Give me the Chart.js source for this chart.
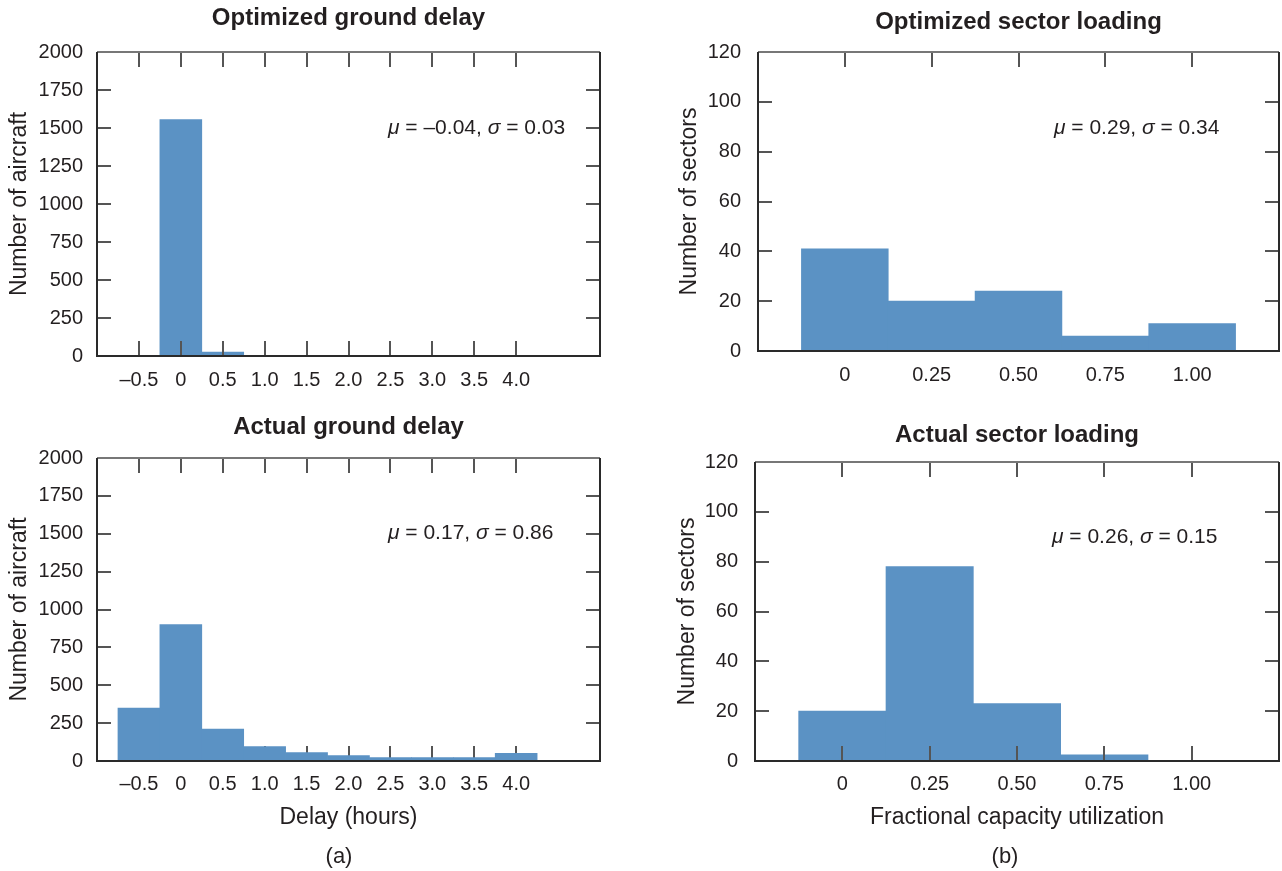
<!DOCTYPE html>
<html>
<head>
<meta charset="utf-8">
<script src="https://cdn.jsdelivr.net/npm/chart.js@4.4.1/dist/chart.umd.min.js"></script>
<style>
  body { margin: 0; background: #fff; width: 1282px; height: 871px; position: relative; overflow: hidden; }
  canvas { position: absolute; }
</style>
</head>
<body>
<canvas id="optDelay" width="640" height="400" style="left:0;top:0"></canvas>
<canvas id="optLoad" width="642" height="400" style="left:640px;top:0"></canvas>
<canvas id="actDelay" width="640" height="471" style="left:0;top:400px"></canvas>
<canvas id="actLoad" width="642" height="471" style="left:640px;top:400px"></canvas>
<script>
// ground delay histograms, 0.5 h bins (bin centres)
const delayBins = [-0.5, 0, 0.5, 1.0, 1.5, 2.0, 2.5, 3.0, 3.5, 4.0];
const delayTickLabels = ["–0.5", "0", "0.5", "1.0", "1.5", "2.0", "2.5", "3.0", "3.5", "4.0"];
const optDelayCounts = [0, 1555, 25, 0, 0, 0, 0, 0, 0, 0];
const actDelayCounts = [350, 900, 210, 95, 55, 35, 22, 22, 22, 50];

// sector loading histograms, 0.25 bins
const loadBins = [0, 0.25, 0.5, 0.75, 1.0];
const loadTickLabels = ["0", "0.25", "0.50", "0.75", "1.00"];
const optLoadCounts = [41, 20, 24, 6, 11];
const actLoadCounts = [20, 78, 23, 2.5, 0];

// mean / std-dev annotations
const optDelayStats = ["–0.04", "0.03"];
const actDelayStats = ["0.17", "0.86"];
const optLoadStats = ["0.29", "0.34"];
const actLoadStats = ["0.26", "0.15"];

const FONT = '"Liberation Sans", Arial, Helvetica, sans-serif';
const INK = '#231f20';
const BAR = '#5b92c4';

// frame + inward tick marks, drawn from the scales
function drawTicks(chart) {
  const { ctx, chartArea: a, scales: { x, y } } = chart;
  ctx.save();
  ctx.strokeStyle = '#555';
  ctx.lineWidth = 2;
  ctx.beginPath();
  x.ticks.forEach(t => {
    const px = Math.round(x.getPixelForValue(t.value));
    ctx.moveTo(px, a.bottom); ctx.lineTo(px, a.bottom - 15);
    ctx.moveTo(px, a.top); ctx.lineTo(px, a.top + 15);
  });
  y.ticks.forEach(t => {
    if (t.value === y.min || t.value === y.max) return;
    const py = Math.round(y.getPixelForValue(t.value));
    ctx.moveTo(a.left, py); ctx.lineTo(a.left + 14, py);
    ctx.moveTo(a.right, py); ctx.lineTo(a.right - 14, py);
  });
  ctx.stroke();
  ctx.restore();
}

function drawFrame(chart) {
  const { ctx, chartArea: a } = chart;
  ctx.save();
  ctx.lineWidth = 2;
  ctx.strokeStyle = '#777';
  ctx.beginPath();
  ctx.moveTo(a.left, a.top); ctx.lineTo(a.right, a.top);
  ctx.stroke();
  ctx.strokeStyle = '#2a2a2a';
  ctx.beginPath();
  ctx.moveTo(a.right, a.top); ctx.lineTo(a.right, a.bottom);
  ctx.lineTo(a.left, a.bottom); ctx.lineTo(a.left, a.top);
  ctx.stroke();
  ctx.restore();
}

const frameTicks = {
  id: 'frameTicks',
  beforeDatasetsDraw(chart, args, opts) { if (!opts.onTop) drawTicks(chart); },
  afterDatasetsDraw(chart, args, opts) {
    if (opts.onTop) drawTicks(chart);
    drawFrame(chart);
  }
};

// μ / σ note and (a)/(b) caption
const panelText = {
  id: 'panelText',
  afterDraw(chart, args, opts) {
    const ctx = chart.ctx;
    ctx.save();
    ctx.fillStyle = INK;
    ctx.textBaseline = 'middle';
    if (opts.stats) {
      const parts = [['μ', true], [' = ' + opts.stats[0] + ', ', false], ['σ', true], [' = ' + opts.stats[1], false]];
      let x = opts.statX;
      parts.forEach(([txt, ital]) => {
        ctx.font = (ital ? 'italic ' : '') + '21px ' + FONT;
        ctx.fillText(txt, x, opts.statY);
        x += ctx.measureText(txt).width;
      });
    }
    if (opts.caption) {
      ctx.font = '22px ' + FONT;
      ctx.textAlign = 'center';
      ctx.fillText(opts.caption, opts.capX, opts.capY);
    }
    ctx.restore();
  }
};

function histogram(id, c) {
  return new Chart(document.getElementById(id), {
    type: 'bar',
    data: {
      datasets: [{
        data: c.bins.map((b, i) => ({ x: b, y: c.counts[i] })),
        backgroundColor: BAR,
        borderWidth: 0,
        barPercentage: 1,
        categoryPercentage: 1
      }]
    },
    options: {
      responsive: false,
      animation: false,
      devicePixelRatio: 1,
      layout: { padding: { left: 0, right: c.padRight, top: 0, bottom: c.padBottom } },
      plugins: {
        legend: { display: false },
        tooltip: { enabled: false },
        title: {
          display: true,
          fullSize: false,
          text: c.title,
          color: INK,
          font: { family: FONT, size: 24, weight: 'bold', lineHeight: 1.2 },
          padding: { top: c.titleTop, bottom: c.titleBottom }
        },
        frameTicks: { onTop: c.ticksOnTop },
        panelText: { stats: c.stats, statX: c.statX, statY: c.statY, caption: c.caption, capX: c.capX, capY: c.capY }
      },
      scales: {
        x: {
          type: 'linear',
          min: c.xMin,
          max: c.xMax,
          offset: false,
          grid: { display: false, drawTicks: false },
          border: { display: false },
          afterBuildTicks: s => { s.ticks = c.bins.map(v => ({ value: v })); },
          ticks: {
            autoSkip: false,
            maxRotation: 0,
            padding: c.xTickPad,
            color: INK,
            font: { family: FONT, size: 20 },
            callback: (v, i) => c.tickLabels[i]
          },
          title: {
            display: !!c.xTitle,
            text: c.xTitle || '',
            color: INK,
            font: { family: FONT, size: 23, lineHeight: 1.2 },
            padding: { top: 0, bottom: 0 }
          },
          afterFit: s => { s.height = c.xHeight; }
        },
        y: {
          min: 0,
          max: c.yMax,
          grid: { display: false, drawTicks: false },
          border: { display: false },
          ticks: {
            stepSize: c.yStep,
            padding: c.yTickPad,
            color: INK,
            font: { family: FONT, size: 20 },
            callback: v => String(v)
          },
          title: {
            display: true,
            text: c.yTitle,
            color: INK,
            font: { family: FONT, size: 23, lineHeight: 1.2 },
            padding: { top: c.yTitlePad, bottom: 0 }
          },
          afterFit: s => { s.width = c.yWidth; }
        }
      }
    },
    plugins: [frameTicks, panelText]
  });
}

// Optimized ground delay
histogram('optDelay', {
  bins: delayBins, counts: optDelayCounts, tickLabels: delayTickLabels,
  title: 'Optimized ground delay', titleTop: 3.6, titleBottom: 19.6,
  xMin: -1, xMax: 5, xTickPad: 12, xHeight: 44, padRight: 40, padBottom: 0,
  yMax: 2000, yStep: 250, yTitle: 'Number of aircraft', yTitlePad: 6.2, yTickPad: 14, yWidth: 97,
  ticksOnTop: true, stats: optDelayStats, statX: 388, statY: 128
});

// Optimized sector loading
histogram('optLoad', {
  bins: loadBins, counts: optLoadCounts, tickLabels: loadTickLabels,
  title: 'Optimized sector loading', titleTop: 7.6, titleBottom: 15.6,
  xMin: -0.25, xMax: 1.25, xTickPad: 12, xHeight: 49, padRight: 3, padBottom: 0,
  yMax: 120, yStep: 20, yTitle: 'Number of sectors', yTitlePad: 36.2, yTickPad: 17, yWidth: 118,
  ticksOnTop: false, stats: optLoadStats, statX: 1054 - 640, statY: 128
});

// Actual ground delay
histogram('actDelay', {
  bins: delayBins, counts: actDelayCounts, tickLabels: delayTickLabels,
  title: 'Actual ground delay', titleTop: 12.6, titleBottom: 16.6,
  xMin: -1, xMax: 5, xTickPad: 11, xHeight: 70.8, padRight: 40, padBottom: 39.2,
  xTitle: 'Delay (hours)',
  yMax: 2000, yStep: 250, yTitle: 'Number of aircraft', yTitlePad: 6.2, yTickPad: 14, yWidth: 97,
  ticksOnTop: false, stats: actDelayStats, statX: 388, statY: 133,
  caption: '(a)', capX: 339, capY: 457
});

// Actual sector loading
histogram('actLoad', {
  bins: loadBins, counts: actLoadCounts, tickLabels: loadTickLabels,
  title: 'Actual sector loading', titleTop: 20.6, titleBottom: 12.6,
  xMin: -0.25, xMax: 1.25, xTickPad: 11, xHeight: 70.8, padRight: 3, padBottom: 39.2,
  xTitle: 'Fractional capacity utilization',
  yMax: 120, yStep: 20, yTitle: 'Number of sectors', yTitlePad: 34.2, yTickPad: 17, yWidth: 115,
  ticksOnTop: true, stats: actLoadStats, statX: 1052 - 640, statY: 137,
  caption: '(b)', capX: 365, capY: 457
});
</script>
</body>
</html>
